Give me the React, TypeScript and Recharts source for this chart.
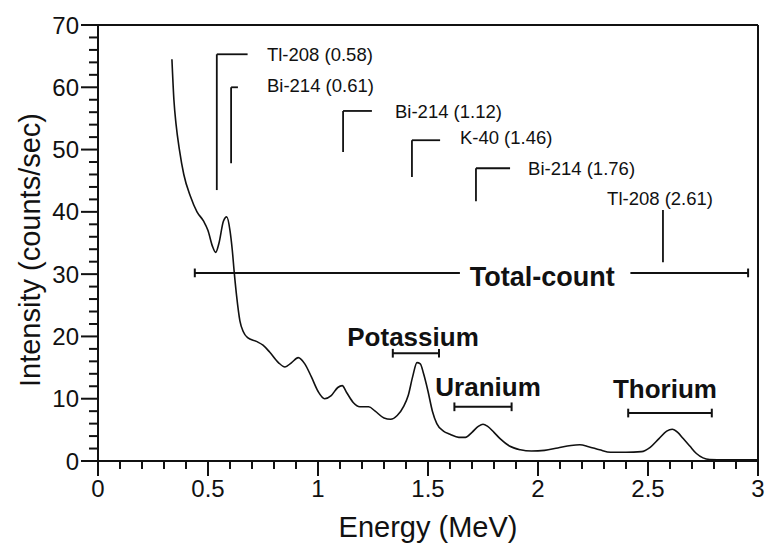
import { LineChart, XAxis, YAxis, Line, ReferenceLine, ReferenceDot } from 'recharts';

// gamma-ray spectrum
const energy = [
  0.336, 0.345, 0.355, 0.37, 0.39, 0.42, 0.45, 0.48, 0.5, 0.52, 0.535, 0.55, 0.57, 0.585, 0.6, 0.61, 0.62,
  0.63, 0.645, 0.66, 0.68, 0.72, 0.75, 0.78, 0.82, 0.85, 0.88, 0.91, 0.94, 0.97, 1.0, 1.03, 1.06, 1.09,
  1.11, 1.13, 1.16, 1.19, 1.23, 1.26, 1.3, 1.33, 1.36, 1.39, 1.41, 1.43, 1.45, 1.465, 1.48, 1.5, 1.52,
  1.54, 1.57, 1.6, 1.64, 1.67, 1.7, 1.73, 1.75, 1.77, 1.8, 1.83, 1.87, 1.92, 1.97, 2.03, 2.09, 2.15,
  2.19, 2.23, 2.28, 2.33, 2.4, 2.47, 2.51, 2.55, 2.585, 2.61, 2.635, 2.66, 2.69, 2.72, 2.75, 2.78, 2.85, 3.0,
];
const intensity = [
  64.5, 58, 54, 50, 46, 42.5, 40, 38.5, 37, 34.5, 33.5, 35, 38.5, 39.2, 37, 34, 30,
  26.5, 22.5, 20.8, 19.8, 19.2, 18.6, 17.5, 15.8, 15.1, 15.8, 16.6, 15.6, 13.5, 11.2, 10, 10.5, 11.8,
  12.1, 11, 9.4, 8.7, 8.7, 8, 6.9, 6.7, 7.3, 8.8, 10.5, 13.5, 15.8, 15.6, 14, 11.2, 8,
  6, 4.8, 4.3, 3.8, 3.8, 4.6, 5.6, 5.9, 5.6, 4.6, 3.5, 2.4, 1.8, 1.6, 1.7, 2.1, 2.5,
  2.6, 2.3, 1.8, 1.4, 1.4, 1.5, 2.2, 3.6, 4.8, 5.1, 4.6, 3.6, 2.4, 1.2, 0.5, 0.25, 0.2, 0.2,
];

const xTicks = Array.from({ length: 31 }, (_, i) => i / 10);
const xMajor = [0, 0.5, 1, 1.5, 2, 2.5, 3];
const yTicks = Array.from({ length: 36 }, (_, i) => i * 2);
const yMajor = [0, 10, 20, 30, 40, 50, 60, 70];

// peak markers: label, vertical line x, bottom y, top y, elbow end x, label x, label y
const peakNames = ['Tl-208 (0.58)', 'Bi-214 (0.61)', 'Bi-214 (1.12)', 'K-40 (1.46)', 'Bi-214 (1.76)', 'Tl-208 (2.61)'];
const peakLineX = [0.54, 0.605, 1.114, 1.427, 1.718, 2.568];
const peakLineLow = [43.5, 47.8, 49.6, 45.6, 41.7, 31.9];
const peakLineHigh = [65.3, 60.0, 56.2, 51.5, 47.0, 40.3];
const peakElbowX = [0.68, 0.636, 1.245, 1.555, 1.873, 2.568];
const peakLabelX = [0.768, 0.768, 1.35, 1.645, 1.955, 2.314];
const peakLabelY = [65.3, 60.3, 56.2, 52.0, 47.0, 42.2];

// energy windows
const windowNames = ['Potassium', 'Uranium', 'Thorium'];
const windowFrom = [1.34, 1.62, 2.41];
const windowTo = [1.55, 1.88, 2.79];
const windowY = [17.3, 8.7, 7.7];
const windowLabelX = [1.432, 1.773, 2.577];
const windowLabelY = [19.9, 11.9, 11.6];

const totalCountLeft = [0.44, 1.645];
const totalCountRight = [2.42, 2.955];
const totalCountY = 30.2;

const spectrum = energy.map((x, i) => ({ x, y: intensity[i] }));

const FONT = '"Liberation Sans", Arial, Helvetica, sans-serif';
const INK = '#111';

const XTick = ({ x, y, payload }: any) => {
  const v = Math.round(payload.value * 10) / 10;
  const major = xMajor.includes(v);
  return (
    <g>
      <line x1={x} x2={x} y1={y} y2={y + (major ? 15 : 8)} stroke={INK} strokeWidth={2} />
      {major && (
        <text x={x} y={y + 36} textAnchor="middle" fontSize={24} fontFamily={FONT} fill={INK}>
          {String(v)}
        </text>
      )}
    </g>
  );
};

const YTick = ({ x, y, payload }: any) => {
  const v = payload.value;
  const major = yMajor.includes(v);
  return (
    <g>
      <line x1={x} x2={x - (major ? 17 : 9)} y1={y} y2={y} stroke={INK} strokeWidth={2} />
      {major && (
        <text x={x - 19} y={y} dy="0.36em" textAnchor="end" fontSize={24} fontFamily={FONT} fill={INK}>
          {v}
        </text>
      )}
    </g>
  );
};

const textShape = (value: string, size: number, bold: boolean, anchor: string) => (p: any) => (
  <text
    x={p.cx}
    y={p.cy}
    dy="0.36em"
    textAnchor={anchor}
    fontSize={size}
    fontWeight={bold ? 700 : 400}
    fontFamily={FONT}
    fill={INK}
  >
    {value}
  </text>
);

const cap = 0.7;

export default function App() {
  return (
    <div style={{ position: 'absolute', left: 0, top: 0, background: '#fff' }}>
      <LineChart width={767} height={543} data={spectrum} margin={{ top: 25, right: 9, bottom: 10, left: 0 }}>
        <XAxis
          dataKey="x"
          type="number"
          domain={[0, 3]}
          ticks={xTicks}
          interval={0}
          tick={<XTick />}
          tickSize={0}
          tickMargin={0}
          tickLine={false}
          height={72}
          axisLine={{ stroke: INK, strokeWidth: 2 }}
          allowDataOverflow
        />
        <YAxis
          type="number"
          domain={[0, 70]}
          ticks={yTicks}
          interval={0}
          tick={<YTick />}
          tickSize={0}
          tickMargin={0}
          tickLine={false}
          width={98}
          axisLine={{ stroke: INK, strokeWidth: 2 }}
          allowDataOverflow
        />
        {/* frame: top and right */}
        <ReferenceLine y={70} stroke={INK} strokeWidth={2} />
        <ReferenceLine x={3} stroke={INK} strokeWidth={2} />

        <Line
          dataKey="y"
          type="monotone"
          stroke={INK}
          strokeWidth={1.6}
          dot={false}
          isAnimationActive={false}
        />

        {/* peak markers */}
        {peakNames.map((name, i) => (
          <ReferenceLine
            key={`pv-${i}`}
            segment={[
              { x: peakLineX[i], y: peakLineLow[i] },
              { x: peakLineX[i], y: peakLineHigh[i] },
            ]}
            stroke={INK}
            strokeWidth={1.8}
          />
        ))}
        {peakNames.map((name, i) =>
          peakElbowX[i] !== peakLineX[i] ? (
            <ReferenceLine
              key={`ph-${i}`}
              segment={[
                { x: peakLineX[i], y: peakLineHigh[i] },
                { x: peakElbowX[i], y: peakLineHigh[i] },
              ]}
              stroke={INK}
              strokeWidth={1.8}
            />
          ) : null
        )}
        {peakNames.map((name, i) => (
          <ReferenceDot
            key={`pl-${i}`}
            x={peakLabelX[i]}
            y={peakLabelY[i]}
            r={0}
            shape={textShape(name, 18.5, false, 'start')}
          />
        ))}

        {/* total-count window */}
        <ReferenceLine segment={[{ x: totalCountLeft[0], y: totalCountY }, { x: totalCountLeft[1], y: totalCountY }]} stroke={INK} strokeWidth={2} />
        <ReferenceLine segment={[{ x: totalCountRight[0], y: totalCountY }, { x: totalCountRight[1], y: totalCountY }]} stroke={INK} strokeWidth={2} />
        <ReferenceLine segment={[{ x: totalCountLeft[0], y: totalCountY - cap }, { x: totalCountLeft[0], y: totalCountY + cap }]} stroke={INK} strokeWidth={2} />
        <ReferenceLine segment={[{ x: totalCountRight[1], y: totalCountY - cap }, { x: totalCountRight[1], y: totalCountY + cap }]} stroke={INK} strokeWidth={2} />
        <ReferenceDot x={1.69} y={29.7} r={0} shape={textShape('Total-count', 27, true, 'start')} />

        {/* K, U, Th windows */}
        {windowNames.map((name, i) => (
          <ReferenceLine
            key={`wb-${i}`}
            segment={[{ x: windowFrom[i], y: windowY[i] }, { x: windowTo[i], y: windowY[i] }]}
            stroke={INK}
            strokeWidth={2}
          />
        ))}
        {windowNames.map((name, i) => (
          <ReferenceLine
            key={`wl-${i}`}
            segment={[{ x: windowFrom[i], y: windowY[i] - cap }, { x: windowFrom[i], y: windowY[i] + cap }]}
            stroke={INK}
            strokeWidth={2}
          />
        ))}
        {windowNames.map((name, i) => (
          <ReferenceLine
            key={`wr-${i}`}
            segment={[{ x: windowTo[i], y: windowY[i] - cap }, { x: windowTo[i], y: windowY[i] + cap }]}
            stroke={INK}
            strokeWidth={2}
          />
        ))}
        {windowNames.map((name, i) => (
          <ReferenceDot
            key={`wt-${i}`}
            x={windowLabelX[i]}
            y={windowLabelY[i]}
            r={0}
            shape={textShape(name, 26, true, 'middle')}
          />
        ))}
      </LineChart>
      <svg width={767} height={543} style={{ position: 'absolute', left: 0, top: 0, pointerEvents: 'none' }}>
        <text x={428} y={537} textAnchor="middle" fontSize={29} fontFamily={FONT} fill={INK}>
          Energy (MeV)
        </text>
        <text
          transform="translate(40,250) rotate(-90)"
          textAnchor="middle"
          fontSize={29}
          fontFamily={FONT}
          fill={INK}
        >
          Intensity (counts/sec)
        </text>
      </svg>
    </div>
  );
}
